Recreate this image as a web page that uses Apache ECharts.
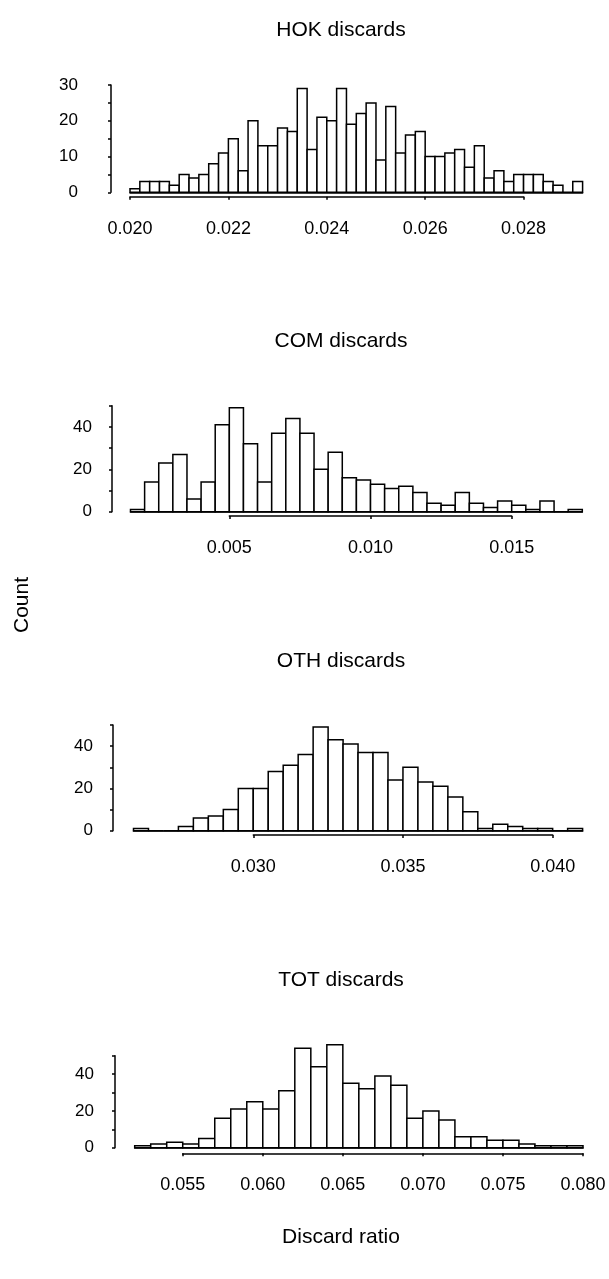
<!DOCTYPE html>
<html>
<head>
<meta charset="utf-8">
<script src="https://cdn.jsdelivr.net/npm/echarts@6/dist/echarts.min.js"></script>
<style>
html,body{margin:0;padding:0;background:#fff;}
#chart{width:609px;height:1279px;}
</style>
</head>
<body>
<div id="chart"></div>
<script>
// ---- data ----
const hokStart = 0.020, hokWidth = 0.0002;
const hokCounts = [1,3,3,3,2,5,4,5,8,11,15,6,20,13,13,18,17,29,12,21,20,29,19,22,25,9,24,11,16,17,10,10,11,12,7,13,4,6,3,5,5,5,3,2,0,3];
const hokTicks = [0.020, 0.028, 0.002];

const comStart = 0.0015, comWidth = 0.0005;
const comCounts = [1,14,23,27,6,14,41,49,32,14,37,44,37,20,28,16,15,13,11,12,9,4,3,9,4,2,5,3,1,5,0,1];
const comTicks = [0.005, 0.015, 0.005];

const othStart = 0.026, othWidth = 0.0005;
const othCounts = [1,0,0,2,6,7,10,20,20,28,31,36,49,43,41,37,37,24,30,23,21,16,9,1,3,2,1,1,0,1];
const othTicks = [0.030, 0.040, 0.005];

const totStart = 0.052, totWidth = 0.001;
const totCounts = [1,2,3,2,5,16,21,25,21,31,54,44,56,35,32,39,34,16,20,15,6,6,4,4,2,1,1,1];
const totTicks = [0.055, 0.080, 0.005];

const titles = ['HOK discards','COM discards','OTH discards','TOT discards'];
const yLabel = 'Count';
const xLabel = 'Discard ratio';

// ---- layout ----
const W = 609, H = 1279;
const FONT = 'Liberation Sans, Arial, Helvetica, sans-serif';
const panels = [
  {start:hokStart, width:hokWidth, counts:hokCounts, ticks:hokTicks, yMax:30, yInt:5, yLab:10,
   left:130, rightPx:582.6, top:85, base:192.3, yOff:19, yMargin:33, frameY:196.7, frameL:130, frameR:523.6, titleY:30},
  {start:comStart, width:comWidth, counts:comCounts, ticks:comTicks, yMax:50, yInt:10, yLab:20,
   left:130.5, rightPx:582.3, top:405.7, base:511.7, yOff:18.5, yMargin:20, frameY:516, frameL:229.3, frameR:511.7, titleY:341},
  {start:othStart, width:othWidth, counts:othCounts, ticks:othTicks, yMax:50, yInt:10, yLab:20,
   left:133.5, rightPx:582.6, top:725, base:830.7, yOff:20.5, yMargin:20, frameY:835, frameL:253.3, frameR:552.7, titleY:661},
  {start:totStart, width:totWidth, counts:totCounts, ticks:totTicks, yMax:50, yInt:10, yLab:20,
   left:134.7, rightPx:583, top:1055.7, base:1147.7, yOff:19.7, yMargin:21, frameY:1153.3, frameL:182.7, frameR:583, titleY:980}
];

const grid = [], xAxis = [], yAxis = [], series = [], graphic = [];
const lineStyle = {color:'#000', width:1.5};

panels.forEach((p, i) => {
  const n = p.counts.length;
  const data = p.counts.map((c, k) => [p.start + k * p.width, p.start + (k + 1) * p.width, c]);
  const gMain = grid.length;
  grid.push({left:p.left, right:W - p.rightPx, top:p.top, bottom:H - p.base});
  xAxis.push({type:'value', gridIndex:gMain, min:p.start, max:p.start + n * p.width,
    axisLine:{show:true, onZero:false, lineStyle}, axisTick:{show:false}, axisLabel:{show:false}, splitLine:{show:false}});
  yAxis.push({type:'value', gridIndex:gMain, min:0, max:p.yMax, interval:p.yInt, offset:p.yOff,
    axisLine:{show:true, lineStyle}, axisTick:{show:true, length:3, lineStyle},
    axisLabel:{color:'#000', fontFamily:FONT, fontSize:17, margin:p.yMargin,
      formatter: v => (Math.round(v) % p.yLab === 0 ? String(Math.round(v)) : '')},
    splitLine:{show:false}});
  series.push({type:'custom', xAxisIndex:gMain, yAxisIndex:gMain, data, clip:false, silent:true,
    encode:{x:[0,1], y:2},
    renderItem: (params, api) => {
      const a = api.coord([api.value(0), 0]);
      const b = api.coord([api.value(1), api.value(2)]);
      return {type:'rect', shape:{x:a[0], y:b[1], width:b[0]-a[0], height:a[1]-b[1]},
        style:{fill:'#fff', stroke:'#000', lineWidth:1.5}};
    }});
  // range-frame x axis
  const gF = grid.length;
  grid.push({left:p.frameL, right:W - p.frameR, top:p.frameY - 1, height:1});
  xAxis.push({type:'value', gridIndex:gF, min:p.ticks[0], max:p.ticks[1], interval:p.ticks[2],
    axisLine:{show:true, onZero:false, lineStyle}, axisTick:{show:true, length:3, lineStyle},
    axisLabel:{color:'#000', fontFamily:FONT, fontSize:18, margin:23, formatter: v => v.toFixed(3),
      showMinLabel:true, showMaxLabel:true},
    splitLine:{show:false}});
  yAxis.push({type:'value', gridIndex:gF, min:0, max:1, show:false});
  series.push({type:'scatter', xAxisIndex:gF, yAxisIndex:gF, data:[], silent:true});
  graphic.push({type:'text', x:341, y:p.titleY, style:{text:titles[i], fill:'#000', font:'21px ' + FONT,
    align:'center', verticalAlign:'middle'}});
});

graphic.push({type:'text', x:22, y:605, rotation:Math.PI/2, style:{text:yLabel, fill:'#000', font:'21px ' + FONT,
  align:'center', verticalAlign:'middle'}});
graphic.push({type:'text', x:341, y:1237, style:{text:xLabel, fill:'#000', font:'21px ' + FONT,
  align:'center', verticalAlign:'middle'}});

const chart = echarts.init(document.getElementById('chart'), null, {renderer:'canvas'});
chart.setOption({animation:false, backgroundColor:'#fff', grid, xAxis, yAxis, series, graphic});
</script>
</body>
</html>
